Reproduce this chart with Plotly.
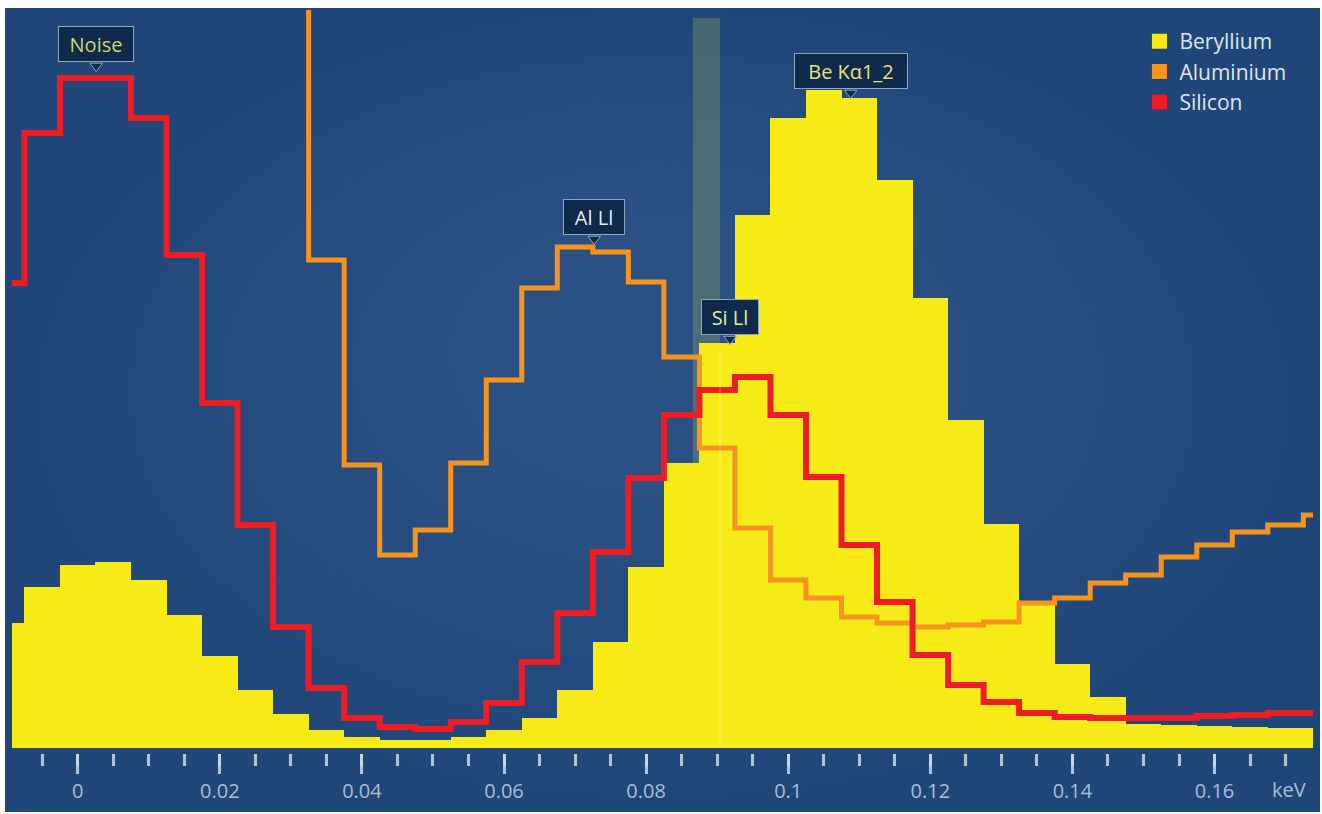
import plotly.graph_objects as go

# ---------------- data ----------------
energy_kev = [-0.01, -0.005, 0.0, 0.005, 0.01, 0.015, 0.02, 0.025, 0.03, 0.035,
              0.04, 0.045, 0.05, 0.055, 0.06, 0.065, 0.07, 0.075, 0.08, 0.085,
              0.09, 0.095, 0.1, 0.105, 0.11, 0.115, 0.12, 0.125, 0.13, 0.135,
              0.14, 0.145, 0.15, 0.155, 0.16, 0.165, 0.17, 0.175]

beryllium = [125, 161, 183, 186, 168, 133, 92, 58, 34, 18,
             11, 8, 8, 11, 18, 30, 58, 106, 181, 285,
             405, 533, 630, 658, 650, 568, 450, 328, 224, 143,
             84, 51, 24, 23, 22, 21, 20, 20]

aluminium = [None, None, None, None, None, None, None, None, 900, 488,
             283, 193, 218, 285, 368, 460, 501, 496, 466, 391,
             300, 220, 168, 150, 131, 125, 121, 123, 126, 145,
             150, 165, 173, 191, 203, 216, 223, 233]

silicon = [465, 615, 670, 670, 630, 493, 345, 223, 121, 60,
           30, 21, 19, 26, 45, 86, 135, 196, 270, 333,
           358, 371, 333, 271, 203, 146, 93, 63, 46, 35,
           31, 30, 30, 30, 32, 33, 35, 35]

tick_vals = [0, 0.02, 0.04, 0.06, 0.08, 0.1, 0.12, 0.14, 0.16]
tick_text = ["0", "0.02", "0.04", "0.06", "0.08", "0.1", "0.12", "0.14", "0.16"]

series_names = ["Beryllium", "Aluminium", "Silicon"]

peak_labels = ["Noise", "Al Ll", "Si Ll", "Be K\u03b11_2"]
peak_energy = [0.0026, 0.0727, 0.0918, 0.1088]
peak_level = [682, 509, 409, 655]          # tip of the callout, in counts
si_band = [0.0866, 0.0904]                 # Si Ll marker band (keV)

# ---------------- styles ----------------
YELLOW = "#f6eb16"
ORANGE = "#f7941d"
RED = "#ee1c25"
BG = "#21477a"
FONT = "Open Sans"

label_styles = {
    "Noise": dict(color="#cbd96a", width=58),
    "Al Ll": dict(color="#e6edf5", width=44),
    "Si Ll": dict(color="#e8e8a0", width=40),
    "Be K\u03b11_2": dict(color="#e2e27e", width=96),
}

fig = go.Figure()

fig.add_trace(go.Bar(
    x=energy_kev, y=beryllium, width=0.005,
    marker=dict(color=YELLOW, line=dict(width=0)),
    showlegend=False, hoverinfo="skip"))

fig.add_trace(go.Scatter(
    x=energy_kev, y=aluminium, mode="lines",
    line=dict(color=ORANGE, width=5, shape="hvh"),
    showlegend=False, hoverinfo="skip"))

fig.add_trace(go.Scatter(
    x=energy_kev, y=silicon, mode="lines",
    line=dict(color=RED, width=6, shape="hvh"),
    showlegend=False, hoverinfo="skip"))

# callout pointers
fig.add_trace(go.Scatter(
    x=peak_energy, y=peak_level, mode="markers",
    marker=dict(symbol="triangle-down", size=11, color="#0f2a4b",
                line=dict(color="#8ea6bf", width=1)),
    showlegend=False, hoverinfo="skip"))

# legend entries (square swatches)
for name, col in zip(series_names, [YELLOW, ORANGE, RED]):
    fig.add_trace(go.Scatter(
        x=[None], y=[None], mode="markers", name=name,
        marker=dict(symbol="square", size=15, color=col)))

# callout boxes
for lab, ex, lv in zip(peak_labels, peak_energy, peak_level):
    st = label_styles[lab]
    fig.add_annotation(
        x=ex, y=lv, xref="x", yref="y", text=lab, showarrow=False,
        yanchor="bottom", yshift=4,
        font=dict(family=FONT, size=20, color=st["color"]),
        bgcolor="#0f2a4b", bordercolor="#8ea6bf", borderwidth=1,
        borderpad=4, width=st["width"] + 8, height=26)

fig.add_annotation(
    x=0.1705, y=-0.0485, xref="x", yref="paper", text="keV", showarrow=False,
    yanchor="middle",
    font=dict(family=FONT, size=20, color="#a9bdd6"))

shapes = [
    dict(type="rect", xref="paper", yref="paper",
         x0=-0.0054, x1=1.0054, y0=-0.0794, y1=1.0027,
         fillcolor=BG, line=dict(width=0), layer="below"),
]
# soft radial brightening toward the centre (many faint layers)
for i in range(10):
    fx = 0.02 + i * 0.035
    fy = -0.06 + i * 0.045
    shapes.append(dict(type="circle", xref="paper", yref="paper",
                       x0=fx, x1=1 - fx, y0=fy, y1=1.0 - i * 0.03,
                       fillcolor="rgba(100,150,200,0.018)",
                       line=dict(width=0), layer="below"))
shapes += [
    dict(type="rect", xref="x", yref="y",
         x0=si_band[0], x1=si_band[1], y0=0, y1=730,
         fillcolor="rgba(150,170,100,0.33)", line=dict(width=0), layer="below"),
    dict(type="line", xref="x", yref="y",
         x0=si_band[1], x1=si_band[1], y0=0, y1=400,
         line=dict(color="rgba(255,255,255,0.22)", width=1.5), layer="above"),
]

fig.update_layout(
    width=1322, height=814,
    margin=dict(l=12, r=9, t=10, b=61),
    paper_bgcolor="white", plot_bgcolor="rgba(0,0,0,0)",
    bargap=0, shapes=shapes,
    font=dict(family=FONT),
    legend=dict(x=0.8666, y=0.985, xanchor="left", yanchor="top",
                bgcolor="rgba(0,0,0,0)", font=dict(family=FONT, size=21, color="#dfe7f0"),
                tracegroupgap=0, itemwidth=30),
    xaxis=dict(range=[-0.009247, 0.17386], showgrid=False, zeroline=False,
               showline=False, anchor="free", position=0,
               tickmode="array", tickvals=tick_vals, ticktext=tick_text,
               ticks="outside", ticklen=20, tickwidth=2.5,
               tickcolor="rgba(205,218,232,0.85)",
               tickfont=dict(family=FONT, size=20, color="#a9bdd6"),
               minor=dict(tickmode="linear", tick0=0, dtick=0.005,
                          ticks="outside", ticklen=12, tickwidth=2.5,
                          tickcolor="rgba(205,218,232,0.85)")),
    yaxis=dict(range=[0, 738], visible=False, domain=[0.00673, 1]),
)

fig.write_html("out.html")
